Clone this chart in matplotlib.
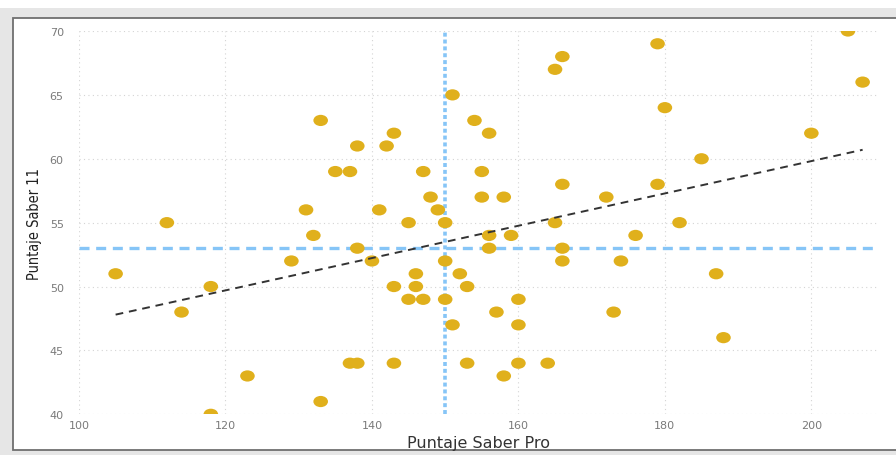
import numpy as np
import matplotlib
matplotlib.use("Agg")
import matplotlib.pyplot as plt
from matplotlib.patches import Rectangle
from matplotlib.path import Path
from matplotlib.transforms import Affine2D
from matplotlib import font_manager

saber_pro = [105, 112, 114, 118, 118, 123, 129, 131, 132, 133, 133, 135, 137, 137, 138, 138, 138,
             140, 141, 142, 143, 143, 143, 145, 145, 146, 146, 147, 147, 148, 149, 150, 150, 150,
             151, 151, 152, 153, 153, 154, 155, 155, 156, 156, 156, 157, 158, 158, 159, 160, 160,
             160, 164, 165, 165, 166, 166, 166, 166, 172, 173, 174, 176, 179, 179, 180, 182, 185,
             187, 188, 200, 205, 207]
saber_11 = [51, 55, 48, 50, 40, 43, 52, 56, 54, 63, 41, 59, 59, 44, 61, 53, 44,
            52, 56, 61, 62, 50, 44, 55, 49, 51, 50, 59, 49, 57, 56, 55, 52, 49,
            65, 47, 51, 50, 44, 63, 59, 57, 62, 54, 53, 48, 43, 57, 54, 49, 47,
            44, 44, 67, 55, 68, 58, 53, 52, 57, 48, 52, 54, 69, 58, 64, 55, 60,
            51, 46, 62, 70, 66]
ref_x = 150
ref_y = 53
x_ticks = [100, 120, 140, 160, 180, 200]
y_ticks = [40, 45, 50, 55, 60, 65, 70]

cands = []
for f in font_manager.fontManager.ttflist:
    tag = (f.fname + " " + f.name + " " + str(f.stretch)).lower()
    if ("condensed" in tag or "narrow" in tag) and "bold" not in f.fname.lower() \
            and "oblique" not in f.fname.lower() and "italic" not in f.fname.lower() \
            and f.weight in (400, "normal", "regular"):
        cands.append(f.fname)
cands.sort()
cond_path = cands[0] if cands else None

W, H = 896, 456
fig = plt.figure(figsize=(W / 100, H / 100), dpi=100)
fig.patch.set_facecolor("white")
fig.patches.append(Rectangle((0, 0), 1, (H - 9) / H, transform=fig.transFigure,
                             facecolor="#e6e6e6", edgecolor="none", zorder=-10))
fig.patches.append(Rectangle((12.5 / W, (H - 451) / H), 1.2, (451 - 19) / H,
                             transform=fig.transFigure, facecolor="white",
                             edgecolor="#6f6f6f", linewidth=1.3, zorder=-9))

ax = fig.add_axes([79 / W, (H - 415.3) / H, (878 - 79) / W, (415.3 - 32) / H])
ax.set_facecolor("none")
ax.set_xlim(100, 209.1)
ax.set_ylim(40, 70)
ax.set_xticks(x_ticks)
ax.set_yticks(y_ticks)
for s in ax.spines.values():
    s.set_visible(False)
ax.grid(True, color="#d4d4d4", linestyle=(0, (1, 3)), linewidth=0.8)
ax.tick_params(length=0, labelsize=8, labelcolor="#7a7a7a", pad=11)
ax.tick_params(axis="x", pad=4)
ax.set_axisbelow(True)

ell = Path.unit_circle().transformed(Affine2D().scale(1.3, 1.0))
ax.scatter(saber_pro, saber_11, marker=ell, s=10.5 ** 2, color="#e0b01c",
           edgecolors="none", zorder=3, clip_on=True)

ax.axvline(ref_x, color="#86c5f7", linewidth=2.6, linestyle=(0, (1.1, 0.8)), zorder=2)
ax.axhline(ref_y, color="#86c5f7", linewidth=2.4, linestyle=(0, (3, 2)), zorder=2)

coef = np.polyfit(saber_pro, saber_11, 1)
xs = np.array([min(saber_pro), max(saber_pro)])
ax.plot(xs, np.polyval(coef, xs), color="#333333", linestyle=(0, (4, 3)),
        linewidth=1.4, zorder=4)

ax.set_xlabel("Puntaje Saber Pro", fontsize=11.5, color="#333333", labelpad=4)
if cond_path:
    fp = font_manager.FontProperties(fname=cond_path, size=12)
else:
    fp = font_manager.FontProperties(family="Roboto", size=10)
ylab = ax.set_ylabel("Puntaje Saber 11", fontproperties=fp, color="#222222")
ax.yaxis.set_label_coords((34 - 79) / (878 - 79), 0.5)
ylab.set_verticalalignment("center")

fig.canvas.draw()
ext = ylab.get_window_extent(fig.canvas.get_renderer())
ylab.set_fontsize(fp.get_size_in_points() * 112.0 / ext.height)

fig.savefig("out.png", dpi=100)
